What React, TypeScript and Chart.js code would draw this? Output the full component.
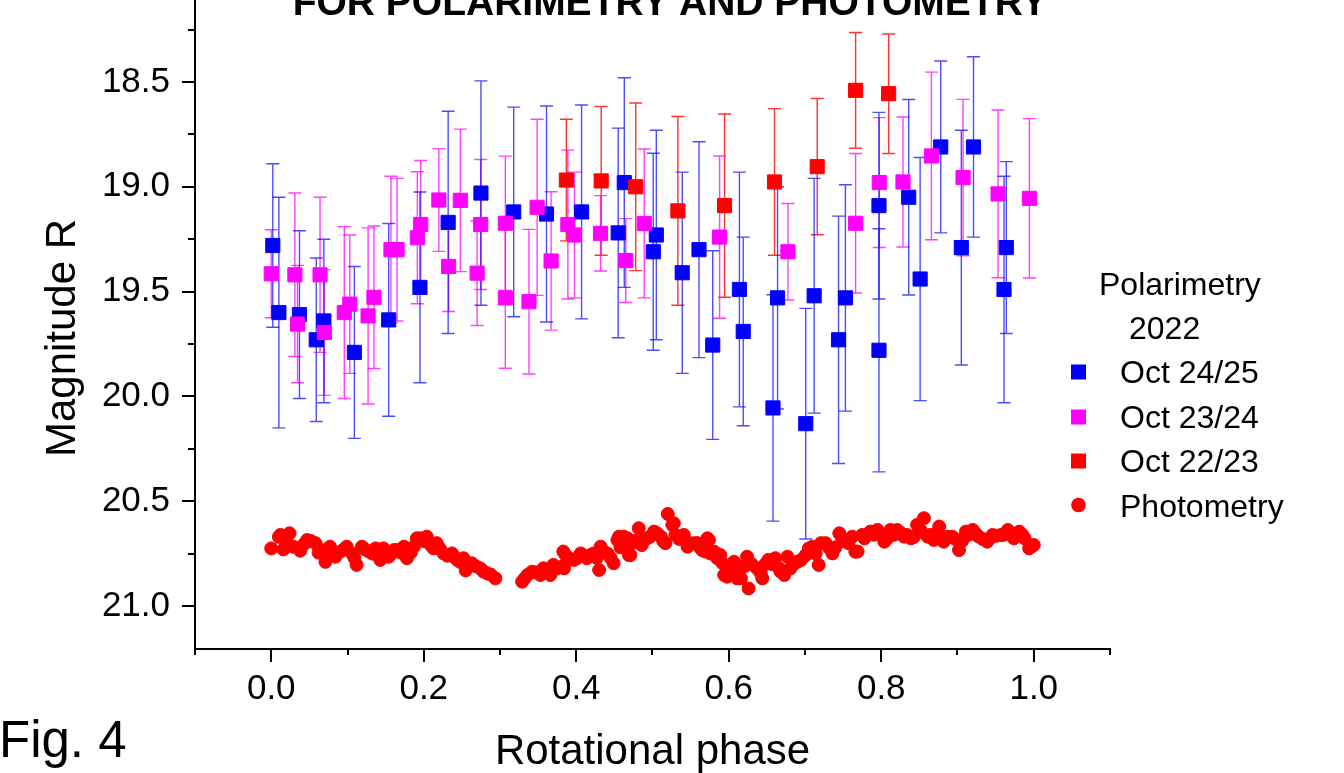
import React, { useEffect, useRef } from "react";
import { Chart, registerables } from "chart.js";

Chart.register(...registerables);

// ---------- data ----------
const titleText = "FOR POLARIMETRY AND PHOTOMETRY";
const xAxisTitle = "Rotational phase";
const yAxisTitle = "Magnitude R";
const figLabel = "Fig. 4";
const legendHeader = ["Polarimetry", "2022"];

const blueName = "Oct 24/25";
const bluePhase = [0.002, 0.010, 0.037, 0.059, 0.069, 0.109, 0.154, 0.195, 0.232, 0.275, 0.318, 0.361, 0.407, 0.455, 0.463, 0.501, 0.505, 0.539, 0.561, 0.579, 0.614, 0.619, 0.658, 0.664, 0.701, 0.712, 0.744, 0.753, 0.797, 0.797, 0.836, 0.851, 0.878, 0.905, 0.921, 0.961, 0.964];
const blueMag = [19.28, 19.60, 19.61, 19.73, 19.64, 19.79, 19.635, 19.48, 19.17, 19.03, 19.12, 19.13, 19.12, 19.22, 18.98, 19.31, 19.23, 19.41, 19.30, 19.755, 19.49, 19.69, 20.055, 19.53, 20.13, 19.52, 19.73, 19.53, 19.09, 19.78, 19.05, 19.44, 18.81, 19.29, 18.81, 19.49, 19.29];
const blueErr = [0.39, 0.55, 0.40, 0.39, 0.39, 0.41, 0.46, 0.455, 0.53, 0.535, 0.50, 0.515, 0.51, 0.50, 0.50, 0.47, 0.50, 0.48, 0.515, 0.45, 0.56, 0.45, 0.54, 0.53, 0.55, 0.56, 0.59, 0.54, 0.445, 0.58, 0.466, 0.58, 0.41, 0.56, 0.43, 0.54, 0.41];

const magName = "Oct 23/24";
const magPhase = [0.000, 0.031, 0.0345, 0.064, 0.0696, 0.0958, 0.103, 0.127, 0.1347, 0.157, 0.165, 0.1916, 0.196, 0.2198, 0.2326, 0.248, 0.270, 0.2747, 0.307, 0.307, 0.338, 0.3487, 0.367, 0.389, 0.3976, 0.4318, 0.465, 0.4892, 0.588, 0.6776, 0.7664, 0.7974, 0.8285, 0.8658, 0.9073, 0.9532, 0.9943];
const magMag = [19.415, 19.42, 19.655, 19.42, 19.695, 19.60, 19.56, 19.616, 19.527, 19.30, 19.30, 19.243, 19.18, 19.063, 19.38, 19.065, 19.412, 19.18, 19.174, 19.53, 19.548, 19.098, 19.354, 19.18, 19.23, 19.222, 19.352, 19.175, 19.24, 19.31, 19.174, 18.98, 18.977, 18.853, 18.956, 19.034, 19.055];
const magErr = [0.21, 0.39, 0.28, 0.37, 0.30, 0.41, 0.33, 0.42, 0.34, 0.35, 0.34, 0.315, 0.305, 0.245, 0.215, 0.34, 0.25, 0.31, 0.32, 0.336, 0.345, 0.42, 0.33, 0.355, 0.30, 0.18, 0.20, 0.355, 0.387, 0.23, 0.333, 0.31, 0.31, 0.40, 0.373, 0.40, 0.38];

const redName = "Oct 22/23";
const redPhase = [0.387, 0.4327, 0.478, 0.5333, 0.5945, 0.660, 0.716, 0.7664, 0.8097];
const redMag = [18.968, 18.972, 19.0, 19.115, 19.09, 18.977, 18.904, 18.54, 18.556];
const redErr = [0.29, 0.355, 0.40, 0.45, 0.437, 0.35, 0.325, 0.276, 0.285];

const photName = "Photometry";
const photPhase = [
  0.000, 0.010, 0.016, 0.024, 0.029, 0.038, 0.047, 0.058, 0.066, 0.071, 0.077, 0.084, 0.091, 0.099, 0.106, 0.112, 0.119, 0.128, 0.137, 0.143, 0.150, 0.158, 0.165, 0.174, 0.178, 0.187, 0.196, 0.204, 0.209, 0.217, 0.226, 0.237, 0.244, 0.252, 0.255, 0.263, 0.274, 0.283, 0.294,
  0.329, 0.336, 0.342, 0.353, 0.357, 0.366, 0.370, 0.381, 0.386, 0.397, 0.406, 0.414, 0.423, 0.430, 0.432, 0.441, 0.449, 0.454, 0.462, 0.469, 0.473, 0.482, 0.486, 0.497, 0.506, 0.517, 0.520, 0.526, 0.530, 0.541, 0.546, 0.556, 0.565, 0.574, 0.576, 0.585, 0.592, 0.598, 0.605, 0.611, 0.620, 0.624, 0.626, 0.637, 0.644, 0.652, 0.661, 0.666, 0.673, 0.681, 0.690, 0.701, 0.710, 0.718, 0.727, 0.736, 0.745, 0.753, 0.762, 0.769, 0.775, 0.786, 0.795, 0.804, 0.812, 0.821, 0.830, 0.839, 0.847, 0.856, 0.861, 0.869, 0.876, 0.882, 0.893, 0.902, 0.911, 0.920, 0.928, 0.939, 0.946, 0.957, 0.966, 0.974, 0.981, 0.988, 0.994, 1.000,
  0.012, 0.020, 0.043, 0.052, 0.062, 0.081, 0.095, 0.109, 0.123, 0.133, 0.147, 0.154, 0.161, 0.170, 0.183, 0.191, 0.200, 0.213, 0.221, 0.231, 0.240, 0.248, 0.259, 0.268, 0.278, 0.288,
  0.332, 0.347, 0.361, 0.375, 0.383, 0.384, 0.392, 0.401, 0.410, 0.419, 0.427, 0.436, 0.445, 0.456, 0.458, 0.467, 0.471, 0.477, 0.490, 0.493, 0.502, 0.511, 0.514, 0.528, 0.535, 0.550, 0.559, 0.562, 0.569, 0.572, 0.581, 0.589, 0.594, 0.601, 0.607, 0.609, 0.616, 0.630, 0.642, 0.648, 0.657, 0.668, 0.677, 0.685, 0.695, 0.705, 0.714, 0.721, 0.731, 0.740, 0.749, 0.757, 0.766, 0.778, 0.782, 0.790, 0.799, 0.808, 0.817, 0.825, 0.834, 0.843, 0.852, 0.865, 0.873, 0.887, 0.897, 0.906, 0.915, 0.924, 0.933, 0.943, 0.951, 0.961, 0.970, 0.978, 0.985, 0.997,
];
const photMag = [
  20.725, 20.67, 20.73, 20.653, 20.717, 20.736, 20.685, 20.70, 20.733, 20.789, 20.717, 20.765, 20.74, 20.717, 20.749, 20.804, 20.717, 20.74, 20.725, 20.78, 20.749, 20.749, 20.733, 20.717, 20.772, 20.717, 20.677, 20.669, 20.709, 20.70, 20.749, 20.749, 20.78, 20.772, 20.83, 20.796, 20.82, 20.844, 20.868,
  20.884, 20.852, 20.836, 20.852, 20.82, 20.852, 20.804, 20.812, 20.757, 20.78, 20.749, 20.772, 20.749, 20.828, 20.717, 20.749, 20.796, 20.685, 20.669, 20.757, 20.70, 20.629, 20.709, 20.669, 20.653, 20.70, 20.561, 20.613, 20.661, 20.661, 20.717, 20.70, 20.733, 20.685, 20.749, 20.772, 20.796, 20.86, 20.812, 20.868, 20.812, 20.765, 20.916, 20.82, 20.868, 20.78, 20.772, 20.82, 20.852, 20.82, 20.789, 20.757, 20.717, 20.804, 20.70, 20.749, 20.653, 20.693, 20.669, 20.74, 20.661, 20.645, 20.637, 20.693, 20.637, 20.637, 20.669, 20.677, 20.613, 20.581, 20.669, 20.685, 20.621, 20.693, 20.669, 20.733, 20.645, 20.637, 20.669, 20.693, 20.661, 20.661, 20.637, 20.677, 20.645, 20.677, 20.725, 20.709,
  20.661, 20.69, 20.705, 20.69, 20.745, 20.745, 20.73, 20.77, 20.73, 20.75, 20.725, 20.765, 20.733, 20.745, 20.745, 20.677, 20.69, 20.725, 20.725, 20.76, 20.765, 20.79, 20.81, 20.81, 20.835, 20.85,
  20.87, 20.84, 20.835, 20.82, 20.74, 20.82, 20.775, 20.772, 20.76, 20.757, 20.77, 20.74, 20.77, 20.669, 20.72, 20.677, 20.757, 20.69, 20.68, 20.677, 20.645, 20.669, 20.69, 20.605, 20.68, 20.70, 20.70, 20.72, 20.74, 20.677, 20.741, 20.757, 20.852, 20.83, 20.789, 20.82, 20.868, 20.80, 20.844, 20.80, 20.80, 20.836, 20.765, 20.80, 20.78, 20.725, 20.75, 20.70, 20.72, 20.72, 20.68, 20.70, 20.741, 20.677, 20.66, 20.66, 20.66, 20.677, 20.66, 20.65, 20.661, 20.67, 20.64, 20.66, 20.66, 20.67, 20.68, 20.69, 20.66, 20.655, 20.68, 20.675, 20.665, 20.66, 20.655, 20.665, 20.66, 20.715,
];

const xTickValues = [-0.1, 0, 0.1, 0.2, 0.3, 0.4, 0.5, 0.6, 0.7, 0.8, 0.9, 1.0, 1.1];
const xMajorTicks = [0, 0.2, 0.4, 0.6, 0.8, 1.0];
const yTickValues = [18.25, 18.5, 18.75, 19.0, 19.25, 19.5, 19.75, 20.0, 20.25, 20.5, 20.75, 21.0];
const yMajorTicks = [18.5, 19.0, 19.5, 20.0, 20.5, 21.0];

// ---------- styling ----------
const FONT = "'Liberation Sans', Arial, Helvetica, sans-serif";
const BLUE = "#0000ff";
const MAGENTA = "#ff00ff";
const RED = "#ff0000";

const isIn = (arr: number[], v: number) => arr.some((m) => Math.abs(m - v) < 1e-6);
const toPts = (xs: number[], ys: number[]) => xs.map((x, i) => ({ x, y: ys[i] }));

const errorBarPlugin = {
  id: "errorBars",
  beforeDatasetsDraw(chart: any) {
    const { ctx } = chart;
    const xs = chart.scales.x;
    const ys = chart.scales.y;
    ctx.save();
    chart.data.datasets.forEach((ds: any) => {
      if (!ds.errors) return;
      ctx.strokeStyle = ds.errColor;
      ctx.lineWidth = 1.4;
      ds.data.forEach((p: any, i: number) => {
        const e = ds.errors[i];
        const px = xs.getPixelForValue(p.x);
        const top = ys.getPixelForValue(p.y - e);
        const bot = ys.getPixelForValue(p.y + e);
        ctx.beginPath();
        ctx.moveTo(px, top);
        ctx.lineTo(px, bot);
        ctx.moveTo(px - 6.5, top);
        ctx.lineTo(px + 6.5, top);
        ctx.moveTo(px - 6.5, bot);
        ctx.lineTo(px + 6.5, bot);
        ctx.stroke();
      });
    });
    ctx.restore();
  },
};

const decorPlugin = {
  id: "decor",
  afterDraw(chart: any) {
    const { ctx, chartArea } = chart;
    const xs = chart.scales.x;
    const ys = chart.scales.y;
    ctx.save();
    // left axis line runs to the top edge
    ctx.strokeStyle = "#000";
    ctx.lineWidth = 2;
    ctx.beginPath();
    ctx.moveTo(chartArea.left, 0);
    ctx.lineTo(chartArea.left, chartArea.bottom + 1);
    ctx.stroke();
    // tick marks
    ctx.beginPath();
    yTickValues.forEach((v) => {
      const py = Math.round(ys.getPixelForValue(v));
      const len = isIn(yMajorTicks, v) ? 13 : 7;
      ctx.moveTo(chartArea.left - len, py);
      ctx.lineTo(chartArea.left, py);
    });
    xTickValues.forEach((v) => {
      const px = Math.round(xs.getPixelForValue(v));
      const len = isIn(xMajorTicks, v) ? 13 : 6;
      ctx.moveTo(px, chartArea.bottom);
      ctx.lineTo(px, chartArea.bottom + len);
    });
    ctx.stroke();

    ctx.fillStyle = "#000";
    // title (cut at top)
    ctx.font = `bold 39px ${FONT}`;
    ctx.textAlign = "center";
    ctx.textBaseline = "alphabetic";
    ctx.fillText(titleText, 670, 15);

    // axis titles
    ctx.font = `42px ${FONT}`;
    ctx.fillText(xAxisTitle, (chartArea.left + chartArea.right) / 2, 764);
    ctx.save();
    ctx.translate(75, 338);
    ctx.rotate(-Math.PI / 2);
    ctx.fillText(yAxisTitle, 0, 0);
    ctx.restore();

    // fig label
    ctx.textAlign = "left";
    ctx.font = `51px ${FONT}`;
    ctx.fillText(figLabel, -1, 757);

    // legend
    ctx.font = `32px ${FONT}`;
    ctx.fillText(legendHeader[0], 1099, 295);
    ctx.fillText(legendHeader[1], 1129, 339);
    const rows = [
      { name: blueName, color: BLUE, shape: "rect", y: 372, base: 383 },
      { name: magName, color: MAGENTA, shape: "rect", y: 417, base: 428 },
      { name: redName, color: RED, shape: "rect", y: 461, base: 472 },
      { name: photName, color: RED, shape: "circle", y: 505, base: 517 },
    ];
    rows.forEach((r) => {
      ctx.fillStyle = r.color;
      if (r.shape === "rect") {
        ctx.fillRect(1071, r.y - 7.5, 15, 15);
      } else {
        ctx.beginPath();
        ctx.arc(1078.5, r.y, 7.3, 0, Math.PI * 2);
        ctx.fill();
      }
      ctx.fillStyle = "#000";
      ctx.fillText(r.name, 1120, r.base);
    });
    ctx.restore();
  },
};

export default function App() {
  const ref = useRef<HTMLCanvasElement>(null);

  useEffect(() => {
    if (!ref.current) return;
    const chart = new Chart(ref.current, {
      type: "scatter",
      data: {
        datasets: [
          {
            label: photName,
            data: toPts(photPhase, photMag),
            pointStyle: "circle",
            pointRadius: 6.5,
            borderWidth: 1,
            backgroundColor: RED,
            borderColor: RED,
          } as any,
          {
            label: redName,
            data: toPts(redPhase, redMag),
            errors: redErr,
            errColor: "rgba(255,0,0,0.8)",
            pointStyle: "rect",
            pointRadius: 10,
            borderWidth: 1,
            backgroundColor: RED,
            borderColor: RED,
          } as any,
          {
            label: magName,
            data: toPts(magPhase, magMag),
            errors: magErr,
            errColor: "rgba(255,0,255,0.75)",
            pointStyle: "rect",
            pointRadius: 10,
            borderWidth: 1,
            backgroundColor: MAGENTA,
            borderColor: MAGENTA,
          } as any,
          {
            label: blueName,
            data: toPts(bluePhase, blueMag),
            errors: blueErr,
            errColor: "rgba(0,0,255,0.7)",
            pointStyle: "rect",
            pointRadius: 10,
            borderWidth: 1,
            backgroundColor: BLUE,
            borderColor: BLUE,
          } as any,
        ],
      },
      options: {
        responsive: false,
        animation: false,
        events: [],
        layout: { autoPadding: false, padding: { left: 0, right: 234, top: 0, bottom: 0 } },
        plugins: {
          legend: { display: false },
          title: { display: false },
          tooltip: { enabled: false },
        },
        scales: {
          x: {
            type: "linear",
            min: -0.1,
            max: 1.1,
            afterBuildTicks: (scale: any) => {
              scale.ticks = xTickValues.map((v) => ({ value: v }));
            },
            afterFit: (scale: any) => {
              scale.height = 124;
              scale.paddingLeft = 0;
              scale.paddingRight = 0;
            },
            ticks: {
              autoSkip: false,
              maxRotation: 0,
              padding: 6,
              color: "#000",
              font: { family: FONT, size: 35 },
              callback: (v: any) => (isIn(xMajorTicks, Number(v)) ? Number(v).toFixed(1) : ""),
            },
            grid: { display: true, drawOnChartArea: false, drawTicks: true, tickLength: 13, color: "rgba(0,0,0,0)" },
            border: { display: true, color: "#000", width: 2 },
          },
          y: {
            type: "linear",
            reverse: true,
            min: 18.109,
            max: 21.205,
            afterBuildTicks: (scale: any) => {
              scale.ticks = yTickValues.map((v) => ({ value: v }));
            },
            afterFit: (scale: any) => {
              scale.width = 195;
              scale.paddingTop = 0;
              scale.paddingBottom = 0;
            },
            ticks: {
              autoSkip: false,
              padding: 12,
              color: "#000",
              font: { family: FONT, size: 35 },
              callback: (v: any) => (isIn(yMajorTicks, Number(v)) ? Number(v).toFixed(1) : ""),
            },
            grid: { display: true, drawOnChartArea: false, drawTicks: true, tickLength: 13, color: "rgba(0,0,0,0)" },
            border: { display: true, color: "#000", width: 2 },
          },
        },
      },
      plugins: [errorBarPlugin, decorPlugin],
    } as any);
    return () => chart.destroy();
  }, []);

  return (
    <div style={{ position: "fixed", left: 0, top: 0, width: 1344, height: 773, background: "#fff" }}>
      <canvas ref={ref} width={1344} height={773} style={{ display: "block", width: 1344, height: 773 }} />
    </div>
  );
}
